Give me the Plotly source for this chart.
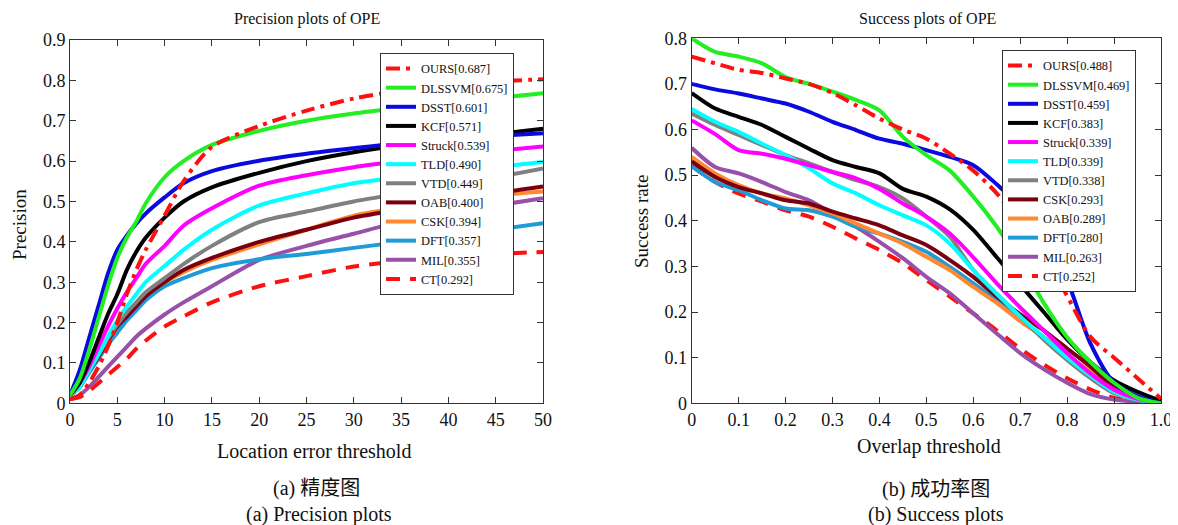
import plotly.graph_objects as go

# ---------------- data ----------------
trackers_prec = ["OURS[0.687]", "DLSSVM[0.675]", "DSST[0.601]", "KCF[0.571]", "Struck[0.539]",
                 "TLD[0.490]", "VTD[0.449]", "OAB[0.400]", "CSK[0.394]", "DFT[0.357]",
                 "MIL[0.355]", "CT[0.292]"]
prec_x = [0, 1, 2, 3, 4, 5, 6, 7, 8, 10, 12, 15, 20, 25, 30, 35, 40, 45, 50]
prec_ours = [0.01, 0.02, 0.05, 0.09, 0.14, 0.20, 0.27, 0.33, 0.38, 0.465, 0.55, 0.635, 0.687, 0.725, 0.755, 0.775, 0.788, 0.797, 0.803]
prec_dlssvm = [0.02, 0.06, 0.13, 0.21, 0.29, 0.36, 0.41, 0.45, 0.495, 0.56, 0.60, 0.64, 0.675, 0.70, 0.718, 0.732, 0.745, 0.756, 0.768]
prec_dsst = [0.02, 0.08, 0.16, 0.24, 0.32, 0.38, 0.415, 0.445, 0.47, 0.51, 0.545, 0.575, 0.601, 0.618, 0.632, 0.645, 0.655, 0.662, 0.669]
prec_kcf = [0.02, 0.05, 0.10, 0.16, 0.22, 0.27, 0.33, 0.375, 0.41, 0.46, 0.50, 0.535, 0.571, 0.60, 0.622, 0.64, 0.655, 0.667, 0.68]
prec_struck = [0.02, 0.05, 0.09, 0.14, 0.19, 0.235, 0.275, 0.31, 0.345, 0.39, 0.44, 0.483, 0.539, 0.565, 0.585, 0.60, 0.613, 0.625, 0.636]
prec_tld = [0.02, 0.04, 0.08, 0.12, 0.165, 0.205, 0.24, 0.27, 0.30, 0.34, 0.38, 0.43, 0.49, 0.52, 0.545, 0.56, 0.573, 0.585, 0.598]
prec_vtd = [0.02, 0.04, 0.08, 0.12, 0.16, 0.195, 0.225, 0.25, 0.275, 0.31, 0.345, 0.39, 0.449, 0.475, 0.50, 0.52, 0.54, 0.56, 0.582]
prec_oab = [0.02, 0.04, 0.08, 0.115, 0.155, 0.19, 0.215, 0.24, 0.265, 0.30, 0.33, 0.36, 0.40, 0.43, 0.46, 0.48, 0.50, 0.52, 0.537]
prec_csk = [0.02, 0.04, 0.08, 0.12, 0.16, 0.19, 0.22, 0.245, 0.27, 0.30, 0.325, 0.355, 0.394, 0.43, 0.465, 0.485, 0.50, 0.515, 0.525]
prec_dft = [0.02, 0.04, 0.075, 0.11, 0.145, 0.175, 0.205, 0.23, 0.255, 0.29, 0.31, 0.335, 0.357, 0.37, 0.385, 0.40, 0.415, 0.43, 0.446]
prec_mil = [0.01, 0.02, 0.04, 0.065, 0.09, 0.115, 0.14, 0.165, 0.185, 0.22, 0.25, 0.29, 0.355, 0.39, 0.42, 0.45, 0.47, 0.49, 0.508]
prec_ct = [0.01, 0.015, 0.03, 0.05, 0.07, 0.09, 0.11, 0.135, 0.155, 0.19, 0.215, 0.25, 0.29, 0.315, 0.339, 0.352, 0.362, 0.37, 0.375]

trackers_succ = ["OURS[0.488]", "DLSSVM[0.469]", "DSST[0.459]", "KCF[0.383]", "Struck[0.339]",
                 "TLD[0.339]", "VTD[0.338]", "CSK[0.293]", "OAB[0.289]", "DFT[0.280]",
                 "MIL[0.263]", "CT[0.252]"]
succ_x = [0, 0.05, 0.1, 0.15, 0.2, 0.25, 0.3, 0.35, 0.4, 0.45, 0.5, 0.55, 0.6, 0.65, 0.7, 0.75, 0.8, 0.85, 0.9, 0.95, 1.0]
succ_ours = [0.76, 0.745, 0.731, 0.724, 0.712, 0.70, 0.68, 0.653, 0.624, 0.60, 0.58, 0.547, 0.51, 0.46, 0.39, 0.33, 0.235, 0.145, 0.10, 0.055, 0.01]
succ_dlssvm = [0.80, 0.77, 0.76, 0.745, 0.715, 0.70, 0.683, 0.665, 0.642, 0.584, 0.544, 0.51, 0.453, 0.387, 0.31, 0.22, 0.145, 0.09, 0.045, 0.012, 0.0]
succ_dsst = [0.70, 0.688, 0.679, 0.668, 0.657, 0.639, 0.617, 0.599, 0.58, 0.569, 0.555, 0.54, 0.522, 0.48, 0.43, 0.37, 0.27, 0.13, 0.045, 0.015, 0.0]
succ_kcf = [0.68, 0.646, 0.628, 0.61, 0.584, 0.558, 0.533, 0.518, 0.504, 0.47, 0.453, 0.425, 0.38, 0.32, 0.26, 0.20, 0.14, 0.09, 0.05, 0.025, 0.005]
succ_struck = [0.62, 0.59, 0.555, 0.547, 0.536, 0.522, 0.507, 0.493, 0.47, 0.438, 0.409, 0.372, 0.32, 0.263, 0.21, 0.16, 0.11, 0.065, 0.03, 0.01, 0.0]
succ_tld = [0.645, 0.617, 0.595, 0.569, 0.544, 0.515, 0.482, 0.46, 0.434, 0.412, 0.39, 0.35, 0.292, 0.24, 0.19, 0.145, 0.10, 0.06, 0.025, 0.008, 0.0]
succ_vtd = [0.635, 0.61, 0.588, 0.566, 0.544, 0.526, 0.507, 0.489, 0.474, 0.449, 0.409, 0.365, 0.292, 0.24, 0.19, 0.14, 0.095, 0.055, 0.022, 0.007, 0.0]
succ_csk = [0.53, 0.496, 0.474, 0.46, 0.445, 0.438, 0.42, 0.405, 0.39, 0.368, 0.347, 0.314, 0.277, 0.234, 0.195, 0.16, 0.12, 0.08, 0.035, 0.01, 0.0]
succ_oab = [0.54, 0.504, 0.478, 0.46, 0.449, 0.434, 0.416, 0.394, 0.372, 0.35, 0.321, 0.292, 0.255, 0.22, 0.18, 0.145, 0.105, 0.07, 0.03, 0.01, 0.0]
succ_dft = [0.52, 0.485, 0.467, 0.445, 0.427, 0.423, 0.409, 0.387, 0.372, 0.354, 0.332, 0.299, 0.263, 0.225, 0.185, 0.145, 0.105, 0.065, 0.025, 0.008, 0.0]
succ_mil = [0.56, 0.518, 0.504, 0.485, 0.463, 0.445, 0.416, 0.387, 0.354, 0.318, 0.277, 0.241, 0.197, 0.153, 0.11, 0.075, 0.045, 0.02, 0.008, 0.003, 0.0]
succ_ct = [0.52, 0.485, 0.46, 0.442, 0.423, 0.409, 0.387, 0.361, 0.336, 0.307, 0.27, 0.234, 0.197, 0.16, 0.12, 0.085, 0.055, 0.03, 0.012, 0.004, 0.0]

prec_ticks = [0, 5, 10, 15, 20, 25, 30, 35, 40, 45, 50]
prec_yticks = [0, 0.1, 0.2, 0.3, 0.4, 0.5, 0.6, 0.7, 0.8, 0.9]
prec_yticklabels = ["0", "0.1", "0.2", "0.3", "0.4", "0.5", "0.6", "0.7", "0.8", "0.9"]
succ_ticks = [0, 0.1, 0.2, 0.3, 0.4, 0.5, 0.6, 0.7, 0.8, 0.9, 1.0]
succ_ticklabels = ["0", "0.1", "0.2", "0.3", "0.4", "0.5", "0.6", "0.7", "0.8", "0.9", "1.0"]
succ_yticks = [0, 0.1, 0.2, 0.3, 0.4, 0.5, 0.6, 0.7, 0.8]
succ_yticklabels = ["0", "0.1", "0.2", "0.3", "0.4", "0.5", "0.6", "0.7", "0.8"]

# ---------------- styles ----------------
colors = ["#ff1010", "#22ee22", "#0a0ae0", "#000000", "#ff00ff", "#00ffff",
          "#808080", "#7a0010", "#ff8830", "#1f9bd8", "#9850a8", "#ff1010"]
dashes = ["14px,6px,4px,6px", "solid", "solid", "solid", "solid", "solid",
          "solid", "solid", "solid", "solid", "solid", "14px,10px"]

# the page body has an 8px margin: the figure is sized to fill the rest of the window
OFF = 8
W, H = 1178 - OFF, 525 - OFF
SERIF = "Liberation Serif, Times New Roman, serif"
CJK = "Liberation Serif, Noto Sans CJK SC, serif"

prec_series = [prec_ours, prec_dlssvm, prec_dsst, prec_kcf, prec_struck, prec_tld,
               prec_vtd, prec_oab, prec_csk, prec_dft, prec_mil, prec_ct]
succ_series = [succ_ours, succ_dlssvm, succ_dsst, succ_kcf, succ_struck, succ_tld,
               succ_vtd, succ_csk, succ_oab, succ_dft, succ_mil, succ_ct]

fig = go.Figure()
for i in reversed(range(12)):
    fig.add_trace(go.Scatter(x=prec_x, y=prec_series[i], name=trackers_prec[i], mode="lines",
                             line=dict(color=colors[i], width=4, dash=dashes[i], shape="spline", smoothing=0.8),
                             xaxis="x", yaxis="y", legend="legend"))
for i in reversed(range(12)):
    fig.add_trace(go.Scatter(x=succ_x, y=succ_series[i], name=trackers_succ[i], mode="lines",
                             line=dict(color=colors[i], width=4, dash=dashes[i], shape="spline", smoothing=0.8),
                             xaxis="x2", yaxis="y2", legend="legend2"))

def px_x(p):
    return (p - OFF) / W

def px_y(p):
    return 1 - (p - OFF) / H

axis_common = dict(showline=True, linecolor="#333", linewidth=1, mirror="ticks",
                   ticks="inside", ticklen=6, tickcolor="#333", showgrid=False, zeroline=False,
                   automargin=False,
                   tickfont=dict(family=SERIF, size=18, color="#111"))

LEG_FONT = dict(family=SERIF, size=12.4, color="#111")

fig.update_layout(
    width=W, height=H, autosize=False,
    margin=dict(l=0, r=0, t=0, b=0, pad=0, autoexpand=False),
    paper_bgcolor="white", plot_bgcolor="white",
    xaxis=dict(domain=[px_x(70), px_x(543)], range=[0, 50], tickvals=prec_ticks,
               anchor="y", **axis_common),
    yaxis=dict(domain=[px_y(403.3), px_y(40)], range=[0, 0.9], tickvals=prec_yticks,
               ticktext=prec_yticklabels, anchor="x", **axis_common),
    xaxis2=dict(domain=[px_x(691.7), px_x(1161)], range=[0, 1.0], tickvals=succ_ticks,
                ticktext=succ_ticklabels, anchor="y2", **axis_common),
    yaxis2=dict(domain=[px_y(403.3), px_y(38.3)], range=[0, 0.8], tickvals=succ_yticks,
                ticktext=succ_yticklabels, anchor="x2", **axis_common),
    legend=dict(x=px_x(380), y=px_y(53), xanchor="left", yanchor="top",
                bgcolor="white", bordercolor="#333", borderwidth=1, traceorder="reversed",
                font=LEG_FONT, itemwidth=30),
    legend2=dict(x=px_x(1002), y=px_y(50), xanchor="left", yanchor="top",
                 bgcolor="white", bordercolor="#333", borderwidth=1, traceorder="reversed",
                 font=LEG_FONT, itemwidth=30),
    showlegend=True,
)

annotations = [
    dict(text="Precision plots of OPE", x=px_x(307), y=px_y(19), size=16),
    dict(text="Success plots of OPE", x=px_x(927), y=px_y(19), size=16),
    dict(text="Location error threshold", x=px_x(314), y=px_y(451), size=20),
    dict(text="Overlap threshold", x=px_x(929), y=px_y(446), size=20),
    dict(text="(a) 精度图", x=px_x(316), y=px_y(488), size=20, cjk=True),
    dict(text="(a) Precision plots", x=px_x(319), y=px_y(514), size=20),
    dict(text="(b) 成功率图", x=px_x(936), y=px_y(489), size=20, cjk=True),
    dict(text="(b) Success plots", x=px_x(936), y=px_y(514), size=20),
]
for a in annotations:
    fig.add_annotation(text=a["text"], x=a["x"], y=a["y"], xref="paper", yref="paper",
                       xanchor="center", yanchor="middle", showarrow=False,
                       font=dict(family=CJK if a.get("cjk") else SERIF, size=a["size"], color="#111"))
fig.add_annotation(text="Precision", x=px_x(20), y=px_y(225), xref="paper", yref="paper",
                   textangle=-90, showarrow=False, xanchor="center", yanchor="middle",
                   font=dict(family=SERIF, size=19, color="#111"))
fig.add_annotation(text="Success rate", x=px_x(641), y=px_y(222), xref="paper", yref="paper",
                   textangle=-90, showarrow=False, xanchor="center", yanchor="middle",
                   font=dict(family=SERIF, size=19, color="#111"))

fig.write_html("out.html")
